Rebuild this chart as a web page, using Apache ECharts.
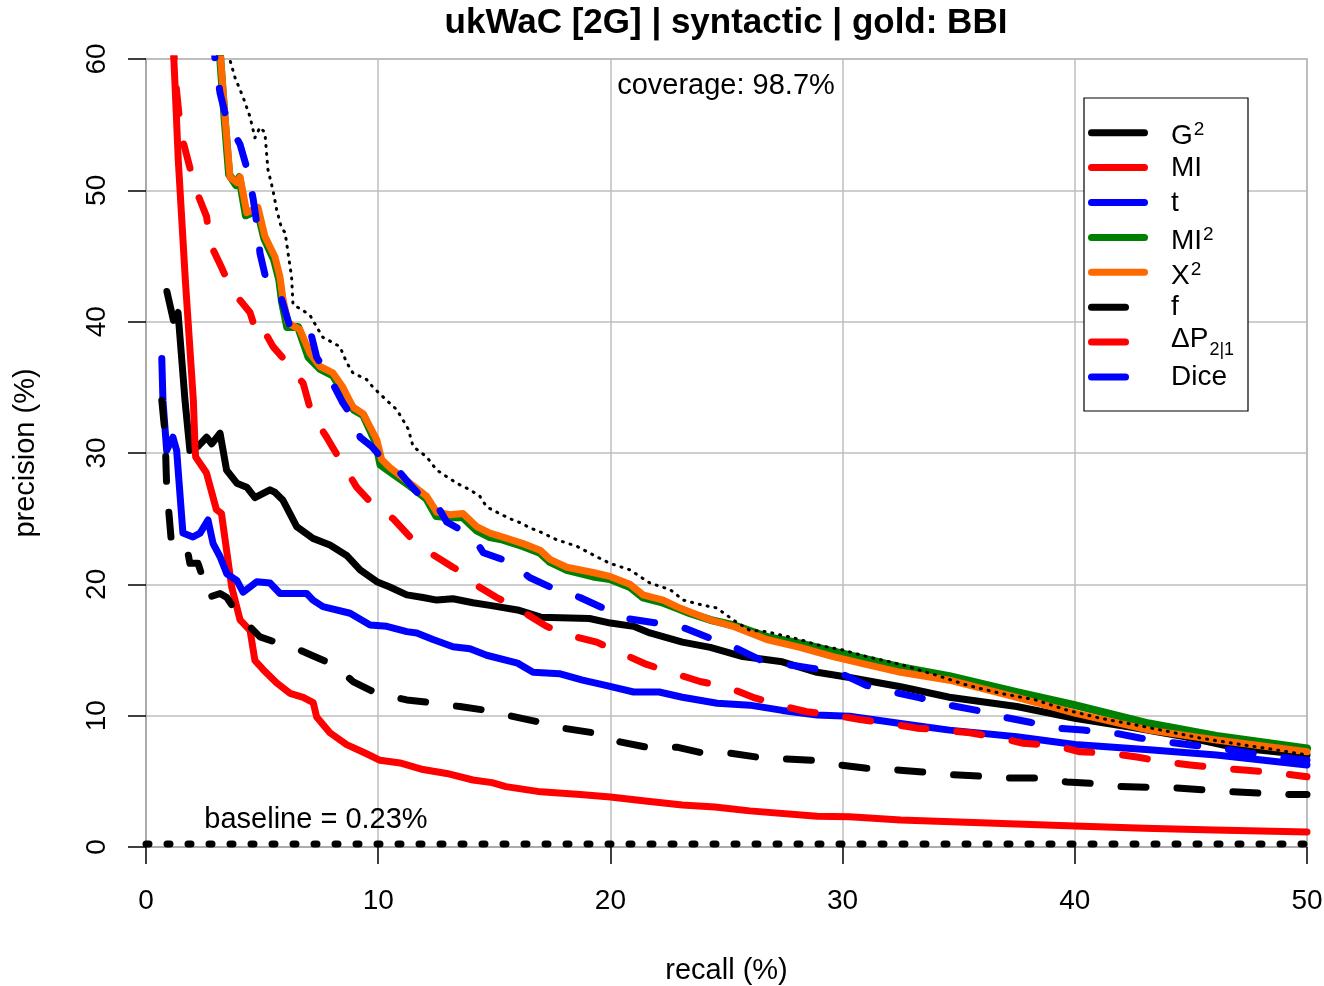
<!DOCTYPE html>
<html>
<head>
<meta charset="utf-8">
<script src="https://cdn.jsdelivr.net/npm/echarts@6/dist/echarts.min.js"></script>
<style>html,body{margin:0;padding:0;background:#fff;overflow:hidden}#c{width:1324px;height:986px}</style>
</head>
<body>
<div id="c"></div>
<script>
// ---- data (recall %, precision %) ----
var xTicks = [0, 10, 20, 30, 40, 50];
var yTicks = [0, 10, 20, 30, 40, 50, 60];

var G2 = [[0.9,42.3],[1.18,40.1],[1.38,40.7],[1.68,34],[1.89,30.2],[2.24,30.5],[2.61,31.2],[2.83,30.7],[3.19,31.5],[3.47,28.7],[3.91,27.7],[4.34,27.4],[4.69,26.6],[5.34,27.2],[5.56,27.0],[5.9,26.4],[6.49,24.4],[7.19,23.5],[7.92,23.0],[8.64,22.2],[9.22,21.1],[9.94,20.2],[10.5,19.8],[11.23,19.2],[11.93,19.0],[12.52,18.8],[13.22,18.9],[14.08,18.6],[14.81,18.4],[16.0,18.05],[17.0,17.5],[19.1,17.4],[20.0,17.05],[21.0,16.8],[21.7,16.3],[23.1,15.6],[24.3,15.2],[25.7,14.5],[27.4,14.1],[28.9,13.3],[30.3,12.9],[32.5,12.2],[34.6,11.4],[37.5,10.7],[40,9.8],[42.5,9.1],[44.7,8.4],[46.8,7.6],[50,7.0]];

var MI = [[1.15,62],[1.3,56],[1.39,52.3],[1.7,43],[2.04,34],[2.11,30.5],[2.14,29.7],[2.6,28.5],[3.03,25.7],[3.25,25.4],[3.69,19.8],[4.05,17.3],[4.48,16.5],[4.69,14.2],[5.05,13.5],[5.62,12.5],[6.2,11.7],[6.77,11.4],[7.2,11.0],[7.35,9.9],[7.92,8.7],[8.64,7.8],[9.5,7.1],[10.08,6.6],[10.94,6.4],[11.93,5.9],[12.95,5.6],[14.08,5.1],[14.9,4.9],[15.5,4.6],[17,4.2],[18.7,4.0],[20,3.8],[21.5,3.5],[23.1,3.2],[24.5,3.05],[26,2.75],[28.9,2.35],[30.3,2.3],[32.5,2.05],[35,1.9],[37.5,1.75],[40,1.6],[43,1.42],[46,1.3],[50,1.15]];

var T = [[0.68,37.2],[0.73,34],[0.89,30.2],[1.16,31.2],[1.32,30.2],[1.59,23.9],[2.02,23.6],[2.33,23.9],[2.67,24.9],[2.89,23.1],[3.19,22.1],[3.48,20.8],[3.91,20.3],[4.18,19.4],[4.77,20.2],[5.34,20.1],[5.77,19.3],[6.92,19.3],[7.19,18.8],[7.62,18.3],[8.79,17.8],[9.65,16.9],[10.37,16.8],[11.23,16.4],[11.66,16.3],[12.36,15.8],[13.22,15.25],[13.95,15.1],[14.67,14.6],[16.0,14.0],[16.67,13.3],[17.8,13.2],[18.8,12.7],[19.8,12.3],[21.0,11.8],[22.1,11.8],[23.1,11.4],[24.6,10.95],[26,10.8],[27.4,10.4],[28.9,10.05],[30.3,9.95],[32.5,9.4],[34.6,8.9],[37.5,8.4],[40,7.8],[43.2,7.4],[46.1,7.0],[50,6.25]];

var MI2 = [[3.08,62],[3.17,60.7],[3.38,55.6],[3.58,51.2],[3.88,50.4],[4.02,51],[4.3,48.1],[4.8,48.5],[5.1,46.3],[5.52,44.7],[5.74,43.2],[5.86,41.5],[6.08,39.6],[6.55,39.6],[7.0,37.3],[7.5,36.4],[8.05,35.9],[8.5,34.6],[8.95,33.3],[9.35,32.9],[9.9,30.8],[10.1,29.1],[10.5,28.6],[11.37,27.5],[12.09,26.5],[12.5,25.2],[13.1,25.1],[13.65,25.1],[14.24,24.1],[14.81,23.6],[15.37,23.4],[16.24,22.9],[16.97,22.4],[17.4,21.7],[18.12,21.1],[19.25,20.6],[19.98,20.4],[20.84,19.8],[21.4,19.0],[22.27,18.6],[22.86,18.2],[23.43,17.8],[24.29,17.3],[25.28,16.9],[26.73,16.0],[28.16,15.5],[29.59,14.9],[31.0,14.3],[32.5,13.7],[34.6,13.0],[37.5,11.8],[40,10.8],[43.2,9.4],[46.1,8.45],[50,7.5]];

var X2 = [[3.1,62],[3.19,60.7],[3.4,55.6],[3.62,51],[3.91,50.6],[4.05,51],[4.34,48.3],[4.82,48.7],[5.12,46.5],[5.56,44.9],[5.77,43.4],[5.9,41.7],[6.12,39.9],[6.63,39.4],[7.06,37.6],[7.49,36.6],[8.05,36.1],[8.48,35.0],[8.91,33.5],[9.35,33.0],[9.94,31.0],[10.15,29.5],[10.5,28.9],[11.37,27.7],[12.09,26.7],[12.52,25.5],[13.09,25.3],[13.65,25.4],[14.24,24.4],[14.81,23.9],[15.37,23.6],[16.24,23.1],[16.97,22.6],[17.4,21.9],[18.12,21.3],[19.25,20.9],[19.98,20.6],[20.84,20.0],[21.4,19.2],[22.27,18.8],[22.86,18.3],[23.43,17.9],[24.29,17.3],[25.28,16.8],[26.73,15.8],[28.16,15.2],[29.59,14.5],[31.0,13.9],[32.5,13.3],[34.6,12.7],[37.5,11.4],[40,10.2],[43.2,8.9],[46.1,8.15],[50,7.25]];

var F = [[0.68,34],[0.82,31.5],[0.89,27.4],[1.1,23.1],[1.75,22.9],[1.89,21.6],[2.24,21.6],[2.61,19.6],[2.67,19.0],[3.19,19.3],[3.48,19.0],[4.05,17.5],[4.34,17.0],[4.91,16.0],[5.9,15.4],[6.49,15.1],[7.13,14.6],[8.05,13.9],[8.48,13.3],[8.91,12.6],[9.94,11.7],[11.23,11.2],[12.23,11.0],[12.95,10.8],[13.52,10.7],[14.67,10.4],[15.5,10.05],[16.97,9.5],[17.96,9.05],[19.25,8.7],[19.98,8.4],[20.41,8.0],[21.56,7.6],[22.86,7.6],[23.86,7.2],[25.15,7.15],[26.3,6.85],[27.59,6.7],[28.72,6.6],[29.88,6.25],[31.04,6.0],[32.47,5.85],[33.5,5.7],[34.75,5.5],[35.92,5.4],[37.2,5.25],[38.37,5.25],[39.66,4.95],[40.65,4.85],[41.95,4.6],[43.1,4.55],[44.4,4.5],[45.5,4.35],[46.8,4.2],[47.98,4.1],[49.27,4.0],[50,4.0]];

var DP = [[1.15,62],[1.27,58.4],[1.5,54.4],[2.11,50.2],[2.61,48],[2.75,46],[3.26,44.1],[3.69,42.4],[4.48,40.7],[4.82,38.8],[5.12,39.2],[5.47,38.1],[6.06,36.9],[6.77,35.3],[7.13,33.0],[7.78,31.2],[8.35,29.5],[9.07,27.4],[9.65,26.3],[10.08,25.7],[10.64,25.0],[11.37,23.6],[12.23,22.4],[13.22,21.3],[13.95,20.6],[14.17,20.0],[15.1,19.0],[16.1,18.05],[17.25,16.8],[18.26,16.1],[19.41,15.6],[20.41,14.8],[21.56,13.9],[22.7,13.25],[23.86,12.6],[25.0,12.2],[26.14,11.4],[27.3,10.8],[28.45,10.3],[29.59,10.05],[30.75,9.7],[32.04,9.4],[33.19,9.05],[34.3,8.9],[35.48,8.7],[36.78,8.3],[37.77,7.9],[39.06,7.75],[40.22,7.25],[41.51,7.15],[42.67,6.85],[43.8,6.5],[44.96,6.25],[46.25,6.0],[47.42,5.85],[48.7,5.65],[50,5.35]];

var DICE = [[2.9,62],[2.97,60.0],[3.19,57.4],[3.47,55.4],[4.05,53.5],[4.39,51.4],[4.61,49.4],[4.77,47.5],[4.91,45.2],[5.2,43.0],[5.84,41.7],[6.2,39.6],[7.06,39.4],[7.35,37.3],[7.92,35.7],[8.48,33.8],[9.07,32.3],[9.22,31.2],[9.72,30.5],[10.5,28.9],[10.94,28.5],[11.37,27.6],[12.09,26.2],[12.52,26.05],[12.95,24.75],[13.81,23.9],[14.17,23.4],[14.53,22.4],[15.67,21.7],[16.54,20.5],[17.53,19.7],[18.69,19.0],[19.68,18.2],[20.7,17.4],[22.0,17.05],[23.14,16.7],[24.29,15.9],[25.28,15.25],[26.44,14.25],[27.59,13.9],[28.72,13.6],[29.88,13.25],[31.04,12.3],[32.17,11.8],[33.33,11.35],[34.6,10.8],[35.8,10.4],[36.9,9.9],[38.07,9.5],[39.23,9.05],[40.35,8.9],[41.64,8.7],[42.8,8.3],[43.97,8.0],[45.1,7.75],[46.38,7.5],[47.55,7.15],[48.84,6.85],[50,6.6]];

var UPPER = [[3.5,61],[3.62,59.9],[3.83,58.6],[4.18,57.1],[4.48,55.6],[4.69,54.0],[4.91,54.8],[5.12,54.4],[5.25,51.6],[5.47,50.0],[5.63,48.5],[5.84,47.1],[5.99,46.8],[6.12,45.2],[6.27,43.4],[6.33,41.3],[6.63,41.0],[7.06,40.5],[7.35,39.6],[7.62,38.8],[8.05,38.4],[8.35,38.1],[8.64,36.9],[8.91,36.1],[9.5,35.6],[9.78,35.0],[10.37,34.0],[10.8,33.3],[11.07,32.5],[11.3,31.8],[11.5,30.5],[12.09,29.7],[12.52,28.7],[12.95,28.2],[13.38,27.7],[13.95,27.2],[14.38,26.7],[14.67,25.9],[15.1,25.5],[15.67,25.0],[16.1,24.7],[16.54,24.3],[16.97,24.0],[17.68,23.4],[18.55,22.9],[19.41,22.1],[19.98,21.6],[20.84,21.1],[21.7,20.1],[22.57,19.6],[23.14,18.8],[24.0,18.4],[24.58,18.2],[25.28,17.3],[26.0,16.5],[26.73,16.4],[27.44,16.1],[28.16,15.8],[28.88,15.4],[30.0,15.0],[31.04,14.5],[32.5,13.9],[34.0,13.1],[35.4,12.3],[36.8,11.7],[38.3,11.2],[39.7,10.4],[41.1,9.8],[42.6,9.3],[44.0,8.8],[45.4,8.3],[46.8,7.9],[48.3,7.5],[49.7,7.1],[50,7.0]];

var BASELINE = [[0,0.23],[50,0.23]];

var titleText = 'ukWaC [2G] | syntactic | gold: BBI';
var coverageText = 'coverage: 98.7%';
var baselineText = 'baseline = 0.23%';

// legend entries: main text, superscript, subscript, color, dashed
var legendItems = [
  ['G', '2', '', '#000000', false],
  ['MI', '', '', '#ff0000', false],
  ['t', '', '', '#0000ff', false],
  ['MI', '2', '', '#008000', false],
  ['X', '2', '', '#ff6a00', false],
  ['f', '', '', '#000000', true],
  ['\u0394P', '', '2|1', '#ff0000', true],
  ['Dice', '', '', '#0000ff', true]
];

var FONT = '"Liberation Sans", Arial, Helvetica, sans-serif';
var DASH = [25, 31];

function ser(name, data, color, width, dash, z) {
  return {
    name: name, type: 'line', data: data, symbol: 'none', showSymbol: false,
    z: z, clip: true, silent: true,
    lineStyle: { color: color, width: width, type: dash || 'solid', cap: 'round', join: 'round' }
  };
}

// approximate Arial advance widths (em) for legend letters
var ADV = { 'G': 0.778, 'M': 0.833, 'I': 0.278, 'X': 0.667, '\u0394': 0.668, 'P': 0.667 };
function textW(str, size) {
  var w = 0;
  for (var k = 0; k < str.length; k++) w += (ADV[str[k]] || 0.556) * size;
  return w;
}

var graphics = [
  { type: 'rect', shape: { x: 1084, y: 98, width: 164, height: 313 },
    style: { fill: '#ffffff', stroke: '#000000', lineWidth: 1.2 }, z: 100 },
  { type: 'text', x: 726, y: 86, z: 100,
    style: { text: coverageText, font: '29px ' + FONT, fill: '#000', textAlign: 'center', textVerticalAlign: 'middle' } },
  { type: 'text', x: 316, y: 820, z: 100,
    style: { text: baselineText, font: '29px ' + FONT, fill: '#000', textAlign: 'center', textVerticalAlign: 'middle' } },
  { type: 'text', x: 726, y: 23, z: 100,
    style: { text: titleText, font: 'bold 35px ' + FONT, fill: '#000', textAlign: 'center', textVerticalAlign: 'middle' } }
];
legendItems.forEach(function (it, i) {
  var y = 132.7 + i * 34.9;
  var mainDy = it[1] ? 3.5 : (it[2] ? -3 : 0.5);
  graphics.push({ type: 'line', z: 101,
    shape: { x1: 1091.5, y1: y, x2: it[4] ? 1125.5 : 1144.5, y2: y },
    style: { stroke: it[3], lineWidth: 7, lineCap: 'round' } });
  graphics.push({ type: 'text', x: 1171, y: y + mainDy, z: 101,
    style: { text: it[0], font: '28px ' + FONT, fill: '#000', textAlign: 'left', textVerticalAlign: 'middle' } });
  var w = textW(it[0], 28);
  if (it[1]) {
    graphics.push({ type: 'text', x: 1171 + w + 1, y: y - 3, z: 101,
      style: { text: it[1], font: '19px ' + FONT, fill: '#000', textAlign: 'left', textVerticalAlign: 'middle' } });
  }
  if (it[2]) {
    graphics.push({ type: 'text', x: 1171 + w + 1, y: y + 7.5, z: 101,
      style: { text: it[2], font: '18px ' + FONT, fill: '#000', textAlign: 'left', textVerticalAlign: 'middle' } });
  }
});

var chart = echarts.init(document.getElementById('c'), null, { renderer: 'canvas', width: 1324, height: 986 });
chart.setOption({
  animation: false,
  backgroundColor: '#ffffff',
  grid: { left: 146, right: 17, top: 59, bottom: 139, show: true, borderColor: '#a6a6a6', borderWidth: 1.5,
          containLabel: false, outerBoundsMode: 'none' },
  xAxis: {
    type: 'value', min: xTicks[0], max: xTicks[xTicks.length - 1], interval: 10,
    name: 'recall (%)', nameLocation: 'middle', nameGap: 109,
    nameTextStyle: { fontFamily: FONT, fontSize: 29, color: '#000' },
    axisLine: { show: true, lineStyle: { color: '#a6a6a6', width: 1.5 } },
    axisTick: { show: true, length: 17, lineStyle: { color: '#000', width: 1.5 } },
    axisLabel: { fontFamily: FONT, fontSize: 28, color: '#000', margin: 40 },
    splitLine: { show: true, lineStyle: { color: '#bebebe', width: 1.5 } }
  },
  yAxis: {
    type: 'value', min: yTicks[0], max: yTicks[yTicks.length - 1], interval: 10,
    name: 'precision (%)', nameLocation: 'middle', nameGap: 106,
    nameTextStyle: { fontFamily: FONT, fontSize: 29, color: '#000' },
    axisLine: { show: true, lineStyle: { color: '#a6a6a6', width: 1.5 } },
    axisTick: { show: true, length: 18, lineStyle: { color: '#000', width: 1.5 } },
    axisLabel: { fontFamily: FONT, fontSize: 28, color: '#000', margin: 35, rotate: 90 },
    splitLine: { show: true, lineStyle: { color: '#bebebe', width: 1.5 } }
  },
  series: [
    ser('G2', G2, '#000000', 7, 'solid', 2),
    ser('MI', MI, '#ff0000', 7, 'solid', 3),
    ser('t', T, '#0000ff', 7, 'solid', 4),
    ser('MI2', MI2, '#008000', 8, 'solid', 5),
    ser('X2', X2, '#ff6a00', 7, 'solid', 6),
    ser('f', F, '#000000', 7, DASH, 7),
    ser('dP', DP, '#ff0000', 7, DASH, 8),
    ser('Dice', DICE, '#0000ff', 7, DASH, 9),
    ser('upper', UPPER, '#000000', 3, [1, 7], 10),
    ser('baseline', BASELINE, '#000000', 7, [3, 18], 11)
  ],
  graphic: graphics
});
</script>
</body>
</html>
